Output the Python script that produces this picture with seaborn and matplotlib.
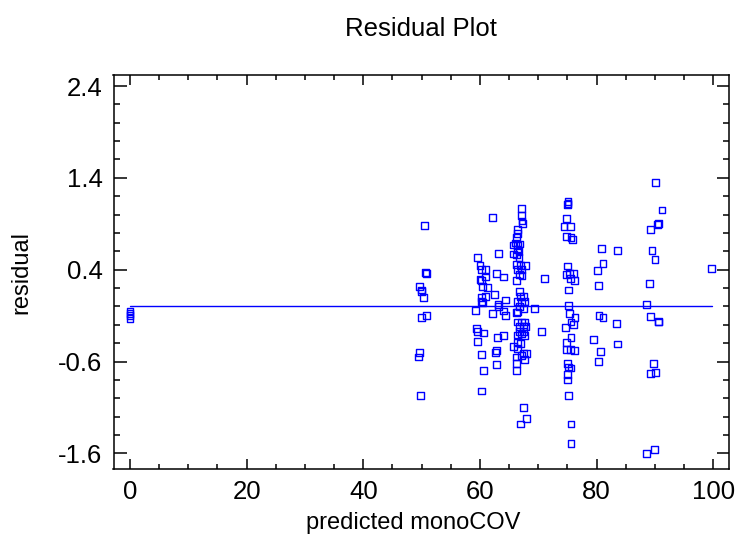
import matplotlib
matplotlib.use("Agg")
import matplotlib.pyplot as plt
import seaborn as sns
import pandas as pd
from matplotlib.ticker import MultipleLocator, FixedLocator, FixedFormatter

sns.set_style("ticks")
plt.rcParams["font.family"] = ["Liberation Sans", "DejaVu Sans"]
plt.rcParams["text.color"] = "black"
plt.rcParams["axes.labelcolor"] = "black"

# predicted monoCOV and residual, grouped by band of prediction
pred_0 = [0, 0, 0, 0]
resid_0 = [-0.05, -0.08, -0.10, -0.13]

pred_50 = [50.5, 50.7, 50.8, 49.7, 50.0, 50.0, 50.3, 50.0, 50.9, 49.6, 49.4, 49.8]
resid_50 = [0.88, 0.37, 0.36, 0.22, 0.18, 0.16, 0.10, -0.12, -0.10, -0.50, -0.55, -0.97]

pred_60 = [62.2, 63.2, 59.6, 60.0, 60.3, 61.0, 62.8, 64.1, 61.0, 60.0, 60.2, 60.5,
           61.3, 62.5, 61.0, 60.2, 64.4, 60.3, 60.4, 63.1, 63.2, 59.2, 62.2, 64.0,
           64.4, 59.4, 59.6, 60.6, 64.1, 63.0, 59.6, 62.8, 62.6, 60.3, 62.8, 60.6, 60.3]
resid_60 = [0.97, 0.58, 0.53, 0.45, 0.40, 0.40, 0.36, 0.32, 0.32, 0.29, 0.28, 0.22,
            0.21, 0.13, 0.11, 0.10, 0.07, 0.05, 0.04, 0.02, 0.00, -0.04, -0.08, -0.05,
            -0.10, -0.24, -0.27, -0.29, -0.32, -0.34, -0.38, -0.48, -0.50, -0.52, -0.63,
            -0.70, -0.92]

pred_66 = [67.1, 67.1, 67.2, 67.3, 66.5, 66.4, 66.3, 66.1, 66.8, 65.8, 66.5, 66.4,
           66.7, 66.3, 66.7, 65.7, 66.3, 67.0, 67.8, 66.5, 67.1, 66.8, 67.2, 66.2,
           66.8, 67.0, 67.4, 66.5, 67.1, 67.6, 69.3, 66.8, 66.5, 67.4, 66.2, 66.5,
           67.1, 67.6, 66.8, 67.4, 67.9, 66.8, 67.4, 66.5, 67.1, 67.7, 65.7, 66.5,
           67.0, 66.5, 67.4, 68.0, 67.1, 66.2, 67.7, 66.2, 66.2, 67.4, 68.0, 66.9,
           71.0, 70.5]
resid_66 = [1.07, 0.99, 0.93, 0.90, 0.84, 0.79, 0.75, 0.69, 0.68, 0.67, 0.66, 0.62,
            0.60, 0.56, 0.53, 0.57, 0.46, 0.45, 0.45, 0.40, 0.40, 0.35, 0.34, 0.28,
            0.16, 0.11, 0.11, 0.05, 0.04, 0.05, -0.02, 0.00, -0.06, -0.02, -0.07, -0.17,
            -0.17, -0.17, -0.22, -0.22, -0.22, -0.27, -0.27, -0.31, -0.30, -0.32, -0.44,
            -0.39, -0.40, -0.46, -0.51, -0.51, -0.53, -0.55, -0.58, -0.62, -0.70, -1.10,
            -1.22, -1.28, 0.30, -0.27]

pred_75 = [75.1, 75.1, 75.0, 74.9, 74.4, 75.5, 74.9, 75.6, 75.8, 75.0, 74.8, 75.4,
           76.0, 75.5, 76.2, 75.2, 75.2, 75.4, 76.3, 75.6, 76.0, 74.6, 75.6, 74.8,
           74.8, 75.5, 76.2, 75.0, 75.2, 75.6, 75.0, 75.0, 75.2, 75.6, 75.6]
resid_75 = [1.14, 1.12, 1.11, 0.96, 0.87, 0.87, 0.76, 0.75, 0.73, 0.44, 0.35, 0.36,
            0.36, 0.30, 0.28, 0.18, 0.01, -0.08, -0.12, -0.17, -0.20, -0.23, -0.34,
            -0.39, -0.47, -0.47, -0.48, -0.62, -0.66, -0.67, -0.74, -0.80, -0.97,
            -1.28, -1.49]

pred_80 = [80.8, 83.6, 81.1, 80.1, 80.3, 80.4, 81.1, 83.4, 79.4, 83.6, 80.6, 80.3]
resid_80 = [0.63, 0.61, 0.47, 0.39, 0.23, -0.10, -0.12, -0.19, -0.36, -0.41, -0.49, -0.60]

pred_90 = [90.1, 91.2, 90.6, 90.5, 89.3, 89.5, 90.0, 89.1, 88.6, 89.3, 90.6, 90.6,
           89.7, 89.3, 90.1, 88.6, 89.9, 99.7]
resid_90 = [1.35, 1.05, 0.90, 0.89, 0.84, 0.61, 0.51, 0.25, 0.02, -0.11, -0.17, -0.16,
            -0.62, -0.73, -0.72, -1.60, -1.56, 0.41]

y_ticks = [2.4, 1.4, 0.4, -0.6, -1.6]
y_tick_labels = ["2.4", "1.4", "0.4", "-0.6", "-1.6"]
x_ticks = [0, 20, 40, 60, 80, 100]

df = pd.DataFrame({
    "predicted": pred_0 + pred_50 + pred_60 + pred_66 + pred_75 + pred_80 + pred_90,
    "residual": resid_0 + resid_50 + resid_60 + resid_66 + resid_75 + resid_80 + resid_90,
})

W, H = 737, 537
fig = plt.figure(figsize=(W / 100, H / 100), dpi=100)
left, right, top, bottom = 113.5, 729, 75, 469
ax = fig.add_axes([left / W, 1 - bottom / H, (right - left) / W, (bottom - top) / H])

# zero reference line across the prediction range
zero_line = pd.DataFrame({"predicted": [df["predicted"].min(), df["predicted"].max()],
                          "residual": [0.0, 0.0]})
sns.lineplot(data=zero_line, x="predicted", y="residual", ax=ax,
             color="#0000ff", linewidth=1.0)

sns.scatterplot(data=df, x="predicted", y="residual", ax=ax, marker="s", s=24,
                facecolor="none", edgecolor="#0000ff", linewidth=1.0, zorder=3)

ax.set_xlim(-2.83, 102.7)
ax.set_ylim(-1.77, 2.52)

ax.xaxis.set_major_locator(FixedLocator(x_ticks))
ax.xaxis.set_minor_locator(MultipleLocator(5))
ax.yaxis.set_major_locator(FixedLocator(y_ticks))
ax.yaxis.set_major_formatter(FixedFormatter(y_tick_labels))
ax.yaxis.set_minor_locator(MultipleLocator(0.2))

ax.tick_params(axis="both", which="both", direction="in", top=True, right=True,
               width=1.1, colors="black", labelcolor="black", labelsize=18.5)
ax.tick_params(axis="y", which="major", length=9, pad=8)
ax.tick_params(axis="y", which="minor", length=4.5)
ax.tick_params(axis="x", which="major", length=7, pad=8)
ax.tick_params(axis="x", which="minor", length=3.5)

for sp in ax.spines.values():
    sp.set_linewidth(1.1)
    sp.set_color("black")

ax.set_xlabel("predicted monoCOV", fontsize=17)
ax.xaxis.set_label_coords(0.4875, -0.11, transform=ax.transAxes)
ax.set_ylabel("residual", fontsize=17)
ax.yaxis.set_label_coords(-0.132, 0.5, transform=ax.transAxes)
ax.set_title("Residual Plot", fontsize=18.5, pad=28, color="black")

fig.savefig("out.png", dpi=100)
